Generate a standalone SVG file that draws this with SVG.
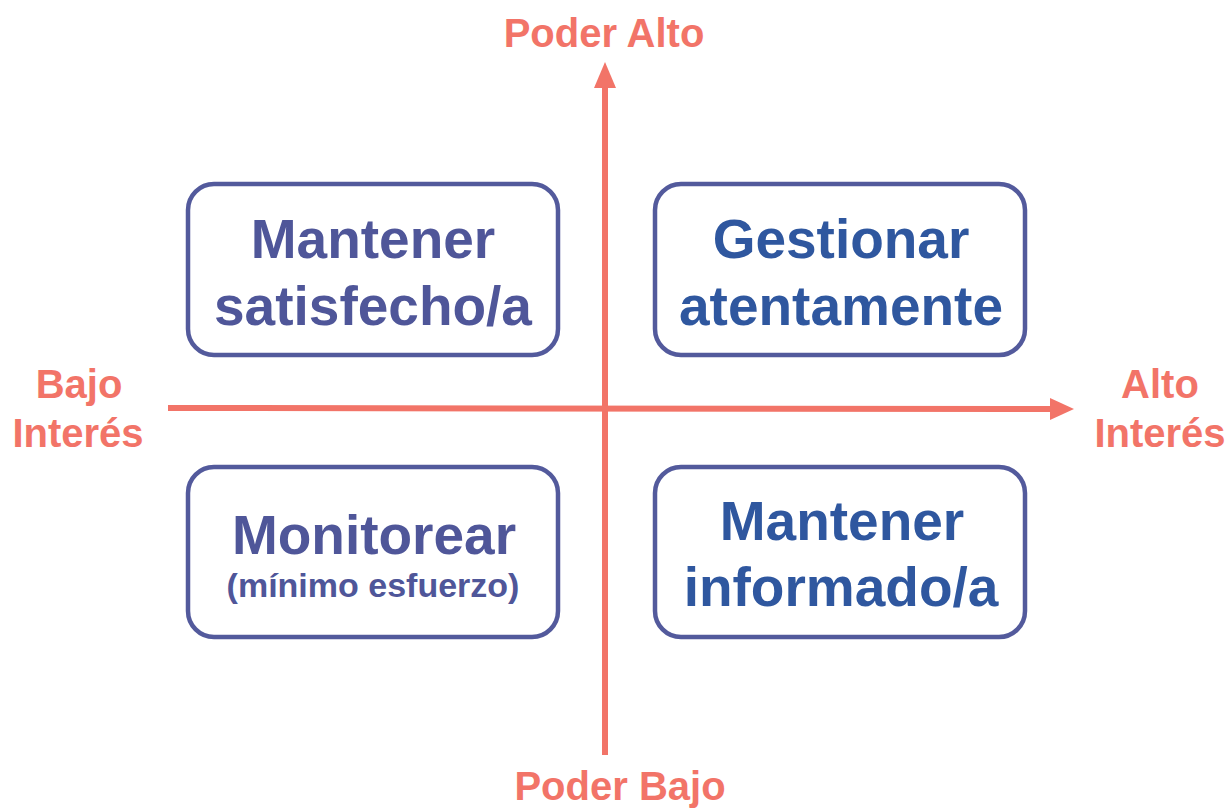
<svg xmlns="http://www.w3.org/2000/svg" width="1229" height="810" viewBox="0 0 1229 810">
<style>
.box{fill:#fff;stroke:#535A9C;stroke-width:4.5}
.t{font-family:"Liberation Sans",Arial,sans-serif;font-weight:bold;text-anchor:middle}
.big{font-size:55px}
.p{fill:#4F5699}
.b{fill:#2F579F}
.ax{fill:#F27468;font-size:40px}
.axl{stroke:#F27468;stroke-width:6;fill:none}
</style>
<rect width="1229" height="810" fill="#fff"/>
<g id="connectors">
<line class="axl" x1="605" y1="755" x2="605" y2="84"/>
<polygon points="605,62 594,88 616,88" fill="#F27468"/>
<line class="axl" x1="168" y1="408" x2="1056" y2="409"/>
<polygon points="1074,409 1050,398 1050,420" fill="#F27468"/>
</g>
<g id="poder-alto"><text class="t ax" x="604" y="47">Poder Alto</text></g>
<g id="poder-bajo"><text class="t ax" x="620" y="800">Poder Bajo</text></g>
<g id="bajo-interes"><text class="t ax" x="79" y="398">Bajo</text><text class="t ax" x="78" y="447">Interés</text></g>
<g id="alto-interes"><text class="t ax" x="1160" y="398">Alto</text><text class="t ax" x="1160" y="447">Interés</text></g>
<g id="mantener-satisfecho">
<rect class="box" x="188" y="184" width="370" height="171" rx="26"/>
<text class="t big p" x="373" y="258">Mantener</text>
<text class="t big p" x="373" y="325">satisfecho/a</text>
</g>
<g id="gestionar">
<rect class="box" x="655" y="184" width="370" height="171" rx="26"/>
<text class="t big b" x="841" y="258">Gestionar</text>
<text class="t big b" x="841" y="325">atentamente</text>
</g>
<g id="monitorear">
<rect class="box" x="188" y="467" width="370" height="170" rx="26"/>
<text class="t big p" x="374" y="554">Monitorear</text>
<text class="t p" style="font-size:34px" x="373" y="597">(mínimo esfuerzo)</text>
</g>
<g id="mantener-informado">
<rect class="box" x="655" y="467" width="370" height="170" rx="26"/>
<text class="t big b" x="842" y="540">Mantener</text>
<text class="t big b" x="841" y="606">informado/a</text>
</g>
</svg>
